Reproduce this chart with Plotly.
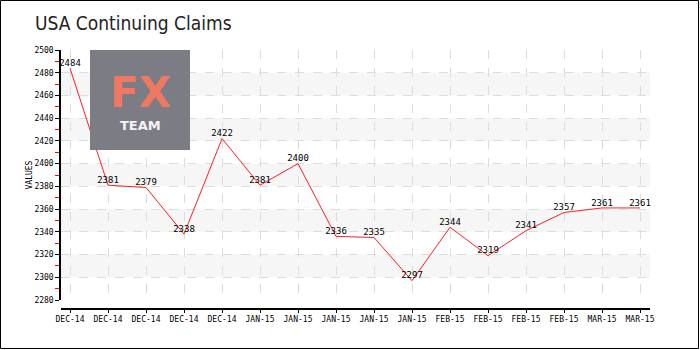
import plotly.graph_objects as go

title = "USA Continuing Claims"
labels = ["DEC-14", "DEC-14", "DEC-14", "DEC-14", "DEC-14", "JAN-15", "JAN-15", "JAN-15",
          "JAN-15", "JAN-15", "FEB-15", "FEB-15", "FEB-15", "FEB-15", "MAR-15", "MAR-15"]
values = [2484, 2381, 2379, 2338, 2422, 2381, 2400, 2336, 2335, 2297, 2344, 2319, 2341, 2357, 2361, 2361]
bands = [(2300, 2320), (2340, 2360), (2380, 2400), (2420, 2440), (2460, 2480)]
y_min, y_max = 2280, 2500

W, H = 700, 350
L, R, T, B = 61, 50, 50, 41
pw, ph = W - L - R, H - T - B
idx = list(range(len(values)))
step = pw / (len(values) - 1 + 19 / 38)
x0 = -(70 - L) / step
x1 = x0 + pw / step

pixfont = "DejaVu Sans Mono"

fig = go.Figure()
fig.add_trace(go.Scatter(
    x=idx, y=values, mode="lines+text",
    line=dict(color="#ff2020", width=1),
    text=[str(v) for v in values], textposition="top center",
    textfont=dict(family=pixfont, size=9, color="#000"),
    cliponaxis=False, showlegend=False,
))

shapes = []
for lo, hi in bands:
    shapes.append(dict(type="rect", xref="paper", yref="y", x0=0, x1=1, y0=lo, y1=hi,
                       fillcolor="#f6f6f6", line=dict(width=0), layer="below"))
# outer frame
shapes.append(dict(type="rect", xref="paper", yref="paper",
                   x0=-(L - 0.5) / pw, x1=1 + (R - 1.5) / pw,
                   y0=-(B - 1.5) / ph, y1=1 + (T - 0.5) / ph,
                   line=dict(color="#000", width=1)))
# watermark box
shapes.append(dict(type="rect", xref="paper", yref="paper",
                   x0=(90 - L) / pw, x1=(190 - L) / pw,
                   y0=(H - B - 150) / ph, y1=1,
                   fillcolor="#7c7c85", line=dict(width=0), layer="above"))

annotations = [
    dict(text=title, xref="paper", yref="paper", x=(33 - L) / pw, y=1 + (T - 23) / ph,
         xanchor="left", yanchor="middle", showarrow=False,
         font=dict(family="Liberation Sans Narrow, DejaVu Sans Condensed, Roboto", size=19, color="#222")),
    dict(text="<b>FX</b>", xref="paper", yref="paper", x=(140 - L) / pw, y=(H - B - 92) / ph,
         xanchor="center", yanchor="middle", showarrow=False,
         font=dict(family="DejaVu Sans", size=42, color="#ef7862")),
    dict(text="<b>TEAM</b>", xref="paper", yref="paper", x=(140 - L) / pw, y=(H - B - 125) / ph,
         xanchor="center", yanchor="middle", showarrow=False,
         font=dict(family="DejaVu Sans", size=13, color="#f4f4f4")),
]

fig.update_layout(
    width=W, height=H, margin=dict(l=L, r=R, t=T, b=B),
    paper_bgcolor="white", plot_bgcolor="white",
    shapes=shapes, annotations=annotations,
    xaxis=dict(range=[x0, x1], tickvals=idx, ticktext=labels, anchor="free", position=0,
               showline=True, linecolor="#000", linewidth=1.5, ticks="outside", ticklen=3,
               tickcolor="#000", showgrid=True, gridcolor="#dddddd", griddash="dash",
               zeroline=False, tickfont=dict(family=pixfont, size=8, color="#000")),
    yaxis=dict(range=[y_min, y_max], domain=[9 / ph, 1], dtick=20, tick0=2280,
               showline=True, linecolor="#000", linewidth=1.5, ticks="outside", ticklen=4,
               tickcolor="#000", showgrid=True, gridcolor="#dddddd", griddash="dash",
               zeroline=False, tickfont=dict(family=pixfont, size=8, color="#000"),
               minor=dict(dtick=10, tick0=2290, ticks="outside", ticklen=4, tickcolor="#ff0000",
                          showgrid=False),
               title=dict(text="VALUES", standoff=0,
                          font=dict(family=pixfont, size=8, color="#000"))),
)

fig.write_html("out.html")
